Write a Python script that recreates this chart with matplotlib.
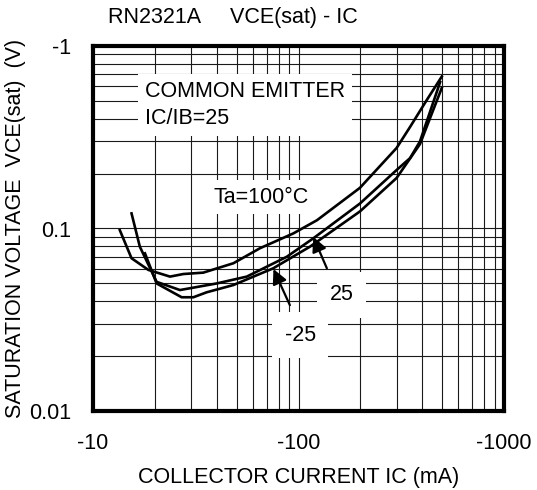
import numpy as np
import matplotlib
matplotlib.use("Agg")
import matplotlib.pyplot as plt
from matplotlib.ticker import NullFormatter

plt.rcParams['font.family'] = ['Liberation Sans', 'DejaVu Sans']

# IC (mA, magnitude) and VCE(sat) (V, magnitude)
ic_100 = [13.5, 15.4, 18.6, 23.7, 27.5, 34.4, 48.2, 65, 94.4, 123, 199, 300, 349, 421, 498]
vce_100 = [0.098, 0.0687, 0.0593, 0.0545, 0.0563, 0.0573, 0.0645, 0.078, 0.094, 0.111,
           0.167, 0.276, 0.36, 0.506, 0.68]

ic_25 = [15.4, 16.9, 20.4, 26.5, 40, 56, 87.7, 118, 199, 300, 349, 390, 489]
vce_25 = [0.121, 0.0795, 0.051, 0.046, 0.050, 0.0545, 0.070, 0.0883, 0.137, 0.209,
          0.243, 0.30, 0.635]

ic_m25 = [17.9, 20.4, 27, 30.8, 35.7, 48.2, 75.3, 113.7, 199, 300, 390, 498]
vce_m25 = [0.0731, 0.050, 0.042, 0.042, 0.0447, 0.049, 0.0605, 0.0795, 0.124, 0.189,
           0.29, 0.589]

x_ticks = [10, 100, 1000]
x_labels = ['-10', '-100', '-1000']
y_ticks = [0.01, 0.1, 1]
y_labels = ['0.01', '0.1', '-1']

fs = 15.5

fig = plt.figure(figsize=(5.37, 4.90), dpi=100)
ax = fig.add_axes([93/537, 79/490, 411/537, 365/490])

ax.set_xscale('log')
ax.set_yscale('log')
ax.set_xlim(10, 1000)
ax.set_ylim(0.01, 1)

for x, y in [(ic_100, vce_100), (ic_25, vce_25), (ic_m25, vce_m25)]:
    ax.plot(x, y, color='k', lw=1.9, zorder=3)

ax.set_xticks(x_ticks)
ax.set_xticklabels(x_labels)
ax.set_yticks(y_ticks)
ax.set_yticklabels(y_labels)
ax.xaxis.set_minor_formatter(NullFormatter())
ax.yaxis.set_minor_formatter(NullFormatter())
ax.tick_params(which='both', length=0, labelsize=fs)
ax.tick_params(axis='x', pad=16)
ax.tick_params(axis='y', pad=16)

ax.grid(which='both', color='#1a1a1a', lw=0.8, zorder=1)
for s in ax.spines.values():
    s.set_linewidth(3)
    s.set_zorder(5)

box = dict(facecolor='white', edgecolor='none', pad=5)
ax.text(0.1265, 0.838, 'COMMON EMITTER\nIC/IB=25', transform=ax.transAxes,
        fontsize=fs, ha='left', va='center', linespacing=1.4, bbox=box, zorder=2)
ax.text(0.292, 0.586, 'Ta=100°C', transform=ax.transAxes,
        fontsize=fs, ha='left', va='center', bbox=box, zorder=2)
ax.text(0.605, 0.318, '25', transform=ax.transAxes,
        fontsize=fs, ha='center', va='center', bbox=dict(facecolor='white', edgecolor='none', pad=9), zorder=2)
ax.text(0.504, 0.208, '-25', transform=ax.transAxes,
        fontsize=fs, ha='center', va='center', bbox=dict(facecolor='white', edgecolor='none', pad=9), zorder=2)

arrow = dict(arrowstyle='-|>', color='k', lw=1.6, mutation_scale=22, shrinkA=0, shrinkB=0)
ax.annotate('', xy=(0.536, 0.477), xytext=(0.569, 0.391), xycoords='axes fraction',
            textcoords='axes fraction', arrowprops=arrow, zorder=4)
ax.annotate('', xy=(0.439, 0.389), xytext=(0.479, 0.290), xycoords='axes fraction',
            textcoords='axes fraction', arrowprops=arrow, zorder=4)

ax.set_xlabel('COLLECTOR CURRENT IC (mA)', fontsize=fs, labelpad=9)
ax.set_ylabel('SATURATION VOLTAGE  VCE(sat)  (V)', fontsize=fs, labelpad=2)

fig.text(108/537, 1 - 17/490, 'RN2321A     VCE(sat) - IC', fontsize=fs, ha='left', va='center')

fig.savefig('out.png', dpi=100)
